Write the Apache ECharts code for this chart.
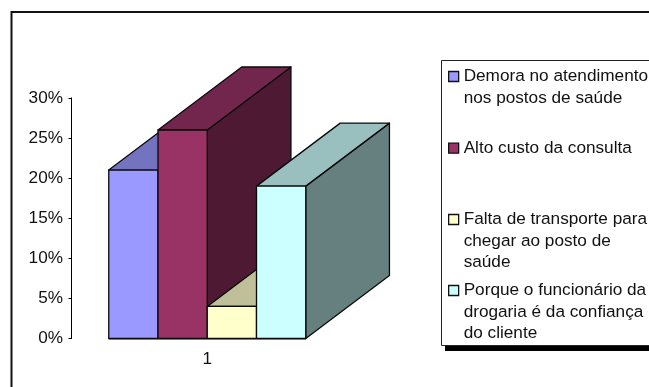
<!DOCTYPE html>
<html>
<head>
<meta charset="utf-8">
<style>html,body{margin:0;padding:0;background:#fff}#chart{width:649px;height:387px}</style>
<script src="https://cdn.jsdelivr.net/npm/echarts@6/dist/echarts.min.js"></script>
</head>
<body>
<div id="chart"></div>
<script>
// Survey answers, in percent
const categories = ['1'];
const tickStep = 5;
const seriesNames = [
  'Demora no atendimento\nnos postos de saúde',
  'Alto custo da consulta',
  'Falta de transporte para\nchegar ao posto de\nsaúde',
  'Porque o funcionário da\ndrogaria é da confiança\ndo cliente'
];
const demoraValues = [21];
const custoValues = [26];
const transporteValues = [4];
const confiancaValues = [19];
const seriesValues = [demoraValues, custoValues, transporteValues, confiancaValues];

// Face colours of each 3D column: front, top, side
const frontColors = ['#9999ff', '#993366', '#ffffcc', '#ccffff'];
const topColors = ['#7373bf', '#73264d', '#bfbf99', '#99bfbf'];
const sideColors = ['#4d4d80', '#4d1933', '#80805f', '#668080'];

const DEPTH_X = 83.7, DEPTH_Y = 63, BAR_FRACTION = 0.1814;
const LEGEND_LINE = 21.5;
const FONT_SIZE = 17.2;
const legendCenters = [76.5, 148.2, 219.5, 290.5];
const EDGE = '#0a0a0a';

function columnRenderer(index) {
  return function (params, api) {
    const base = api.coord([api.value(0), 0]);
    const head = api.coord([api.value(0), api.value(1)]);
    const band = api.size([1, 0])[0];
    const w = band * BAR_FRACTION;
    const x0 = base[0] - 2 * w + index * w;
    const x1 = x0 + w;
    const y0 = base[1], y1 = head[1];
    const face = (pts, fill) => ({
      type: 'polygon',
      shape: { points: pts },
      style: { fill: fill, stroke: EDGE, lineWidth: 1.3, lineJoin: 'round' }
    });
    return {
      type: 'group',
      children: [
        { type: 'line', shape: { x1: x0, y1: y0 + 1, x2: x1, y2: y0 + 1 }, style: { stroke: '#a0a0a0', lineWidth: 1 } },
        face([[x1, y1], [x1 + DEPTH_X, y1 - DEPTH_Y], [x1 + DEPTH_X, y0 - DEPTH_Y], [x1, y0]], sideColors[index]),
        face([[x0, y1], [x0 + DEPTH_X, y1 - DEPTH_Y], [x1 + DEPTH_X, y1 - DEPTH_Y], [x1, y1]], topColors[index]),
        face([[x0, y0], [x0, y1], [x1, y1], [x1, y0]], frontColors[index])
      ]
    };
  };
}

const chart = echarts.init(document.getElementById('chart'), null, { renderer: 'canvas' });
chart.setOption({
  animation: false,
  backgroundColor: '#fff',
  textStyle: { fontFamily: '"Liberation Sans", Arial, sans-serif' },
  grid: { left: 71.5, width: 271.5, top: 97.9, height: 240.6 },
  xAxis: {
    type: 'category',
    data: categories,
    axisLine: { show: false },
    axisTick: { show: false },
    axisLabel: { color: '#111', fontSize: FONT_SIZE, margin: 12, fontFamily: '"Liberation Sans"' }
  },
  yAxis: {
    type: 'value',
    min: 0,
    max: 30,
    interval: tickStep,
    splitLine: { show: false },
    axisLine: { show: true, lineStyle: { color: '#000', width: 1 } },
    axisTick: { show: true, length: 3, lineStyle: { color: '#000', width: 1 } },
    axisLabel: { color: '#111', fontSize: FONT_SIZE, margin: 8.5, formatter: '{value}%', fontFamily: '"Liberation Sans"' }
  },
  // One legend per entry; blank leading lines keep each swatch beside the first text line
  legend: seriesNames.map((name, i) => {
    const lines = name.split('\n').length;
    return {
      data: [name],
      orient: 'vertical',
      left: 448,
      top: legendCenters[i] - (lines - 0.5) * LEGEND_LINE,
      padding: 0,
      itemWidth: 10,
      itemHeight: 10,
      icon: 'rect',
      selectedMode: false,
      formatter: (n) => '\n'.repeat(lines - 1) + n,
      itemStyle: { borderColor: '#111', borderWidth: 1.3 },
      textStyle: {
        color: '#111',
        fontSize: FONT_SIZE,
        lineHeight: LEGEND_LINE,
        fontFamily: '"Liberation Sans"'
      }
    };
  }),
  graphic: [
    { type: 'rect', z: -10, silent: true, shape: { x: 11.5, y: 12, width: 700, height: 500 }, style: { fill: '#fff', stroke: '#111', lineWidth: 2 } },
    { type: 'rect', z: -9, silent: true, shape: { x: 445, y: 64, width: 260, height: 287 }, style: { fill: '#000' } },
    { type: 'rect', z: -8, silent: true, shape: { x: 441.5, y: 60.5, width: 260, height: 285 }, style: { fill: '#fff', stroke: '#222', lineWidth: 1 } }
  ],
  series: seriesNames.map((name, i) => ({
    type: 'custom',
    name: name,
    itemStyle: { color: frontColors[i] },
    renderItem: columnRenderer(i),
    encode: { x: 0, y: 1 },
    clip: false,
    data: categories.map((c, k) => [k, seriesValues[i][k]])
  }))
});
</script>
</body>
</html>
